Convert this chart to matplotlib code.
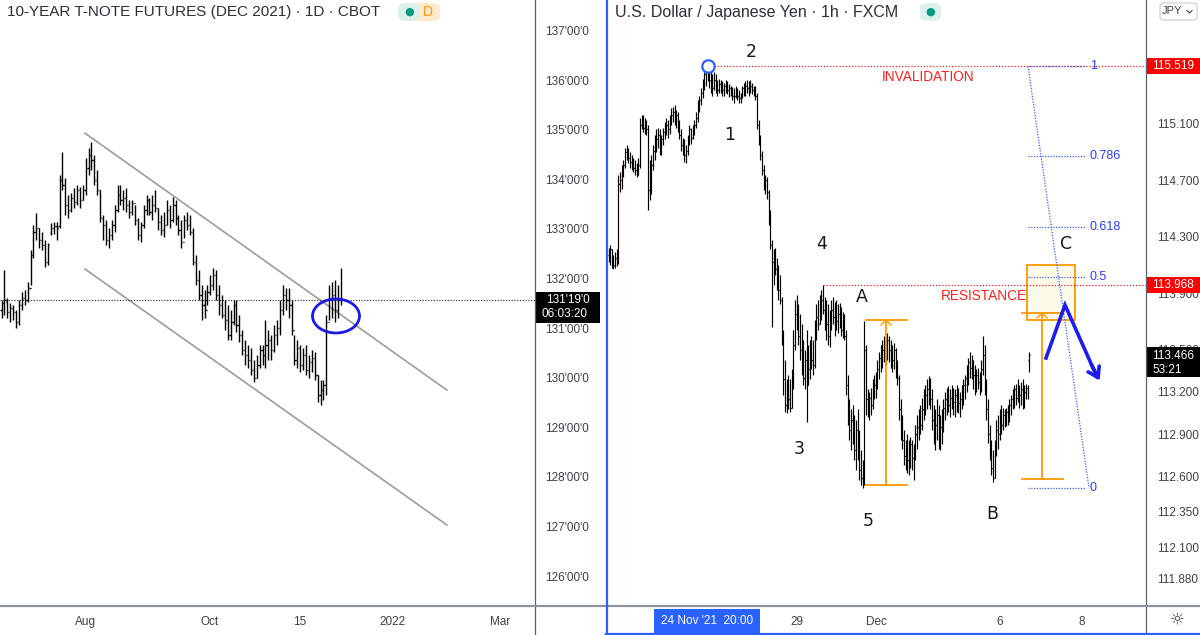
import matplotlib
matplotlib.use("Agg")
import matplotlib.pyplot as plt
import matplotlib.transforms as mtrans
from matplotlib.patches import Ellipse, Rectangle, FancyBboxPatch
from matplotlib.lines import Line2D
import numpy as np

plt.rcParams['font.family'] = ['Liberation Sans', 'DejaVu Sans']

W, H = 1200, 635

# ---------------- 10-year T-Note futures, daily bars ----------------
tn_open = [131.40, 131.54, 131.56, 131.36, 131.44, 131.36, 131.15, 131.50, 131.64, 131.60,
           131.84, 132.50, 132.97, 133.05, 132.81, 132.71, 132.36, 132.95, 133.05, 133.09,
           133.09, 134.02, 133.92, 133.51, 133.41, 133.65, 133.57, 133.81, 133.61, 133.81,
           134.26, 134.52, 134.42, 134.02, 133.81, 133.25, 133.11, 132.81, 132.91, 133.11,
           133.41, 133.71, 133.61, 133.65, 133.51, 133.37, 133.55, 133.21, 132.91, 133.11,
           133.41, 133.61, 133.37, 133.51, 133.45, 133.17, 133.01, 133.11, 133.41, 133.21,
           133.51, 133.25, 133.01, 132.77, 133.21, 133.11, 132.97, 132.36, 132.00, 131.70,
           131.50, 131.40, 131.76, 131.90, 132.10, 131.70, 131.50, 131.30, 131.19, 130.89,
           131.15, 131.50, 131.09, 130.89, 130.59, 130.49, 130.39, 130.19, 130.02, 130.29,
           130.59, 130.49, 130.69, 130.79, 130.59, 130.89, 131.03, 131.40, 131.70, 131.60,
           131.50, 130.99, 130.39, 130.63, 130.29, 130.49, 130.19, 130.35, 130.43, 130.08,
           129.68, 129.78, 129.88, 131.15, 131.60, 131.70, 131.40, 131.60]
tn_high = [131.60, 132.20, 131.64, 131.54, 131.50, 131.40, 131.60, 131.76, 131.80, 131.96,
           132.60, 133.11, 133.35, 133.05, 132.97, 132.81, 132.75, 133.15, 133.17, 133.17,
           134.12, 134.58, 134.06, 133.71, 133.75, 133.85, 133.92, 133.87, 133.92, 134.46,
           134.66, 134.78, 134.52, 134.22, 133.81, 133.31, 133.21, 133.05, 133.21, 133.51,
           133.92, 133.92, 133.81, 133.85, 133.61, 133.61, 133.51, 133.25, 133.17, 133.51,
           133.71, 133.65, 133.71, 133.81, 133.45, 133.31, 133.37, 133.61, 133.51, 133.67,
           133.61, 133.31, 133.21, 133.31, 133.37, 133.31, 133.05, 132.50, 132.20, 131.90,
           131.80, 131.90, 132.10, 132.24, 132.20, 131.90, 131.70, 131.60, 131.50, 131.40,
           131.60, 131.60, 131.30, 130.99, 130.79, 130.69, 130.63, 130.39, 130.49, 130.69,
           130.69, 131.19, 130.99, 130.89, 131.09, 131.19, 131.60, 131.90, 131.84, 131.84,
           131.60, 130.89, 130.79, 130.69, 130.63, 130.69, 130.49, 130.59, 130.55, 130.08,
           129.98, 129.98, 131.30, 131.90, 131.96, 132.00, 131.90, 132.24]
tn_low = [131.23, 131.30, 131.23, 131.15, 131.19, 131.03, 131.09, 131.40, 131.50, 131.56,
          131.90, 132.44, 132.81, 132.65, 132.60, 132.26, 132.30, 132.91, 132.93, 132.81,
          133.05, 133.81, 133.31, 133.25, 133.37, 133.45, 133.51, 133.45, 133.61, 133.71,
          134.12, 134.22, 133.92, 133.71, 133.17, 132.81, 132.71, 132.65, 132.81, 132.97,
          133.37, 133.51, 133.41, 133.37, 133.25, 133.31, 133.11, 132.81, 132.77, 133.05,
          133.31, 133.31, 133.21, 133.37, 133.01, 132.91, 132.87, 133.11, 133.05, 133.17,
          133.11, 132.91, 132.65, 132.85, 133.01, 132.91, 132.30, 131.90, 131.60, 131.19,
          131.23, 131.50, 131.70, 131.80, 131.60, 131.30, 131.23, 130.99, 130.79, 130.79,
          131.09, 130.95, 130.75, 130.49, 130.29, 130.23, 130.08, 129.94, 130.02, 130.23,
          130.29, 130.23, 130.39, 130.39, 130.55, 130.69, 130.89, 131.30, 131.40, 131.23,
          130.89, 130.29, 130.23, 130.15, 130.19, 130.08, 130.02, 130.15, 129.98, 129.54,
          129.48, 129.58, 129.68, 131.19, 131.23, 131.15, 131.23, 131.50]
tn_close = [131.54, 131.60, 131.36, 131.44, 131.36, 131.15, 131.50, 131.64, 131.60, 131.84,
            132.50, 132.97, 133.05, 132.81, 132.71, 132.36, 132.71, 133.05, 133.09, 133.05,
            134.02, 133.92, 133.51, 133.41, 133.65, 133.57, 133.81, 133.61, 133.81, 134.26,
            134.52, 134.42, 134.02, 133.81, 133.25, 133.11, 132.81, 132.91, 133.11, 133.41,
            133.71, 133.61, 133.65, 133.51, 133.37, 133.55, 133.21, 132.91, 133.11, 133.41,
            133.61, 133.37, 133.51, 133.45, 133.17, 133.01, 133.11, 133.41, 133.21, 133.51,
            133.25, 133.01, 132.77, 133.21, 133.11, 132.97, 132.36, 132.00, 131.70, 131.50,
            131.40, 131.76, 131.90, 132.10, 131.70, 131.50, 131.30, 131.19, 130.89, 131.15,
            131.50, 131.09, 130.89, 130.59, 130.49, 130.39, 130.19, 130.02, 130.29, 130.59,
            130.49, 130.69, 130.79, 130.59, 130.89, 131.03, 131.40, 131.70, 131.60, 131.50,
            130.99, 130.39, 130.63, 130.29, 130.49, 130.19, 130.35, 130.43, 130.08, 129.68,
            129.78, 129.88, 131.15, 131.60, 131.70, 131.40, 131.60, 131.59]
tn_last = 131.59375
tn_yticks = [137, 136, 135, 134, 133, 132, 131, 130, 129, 128, 127, 126]
tn_ytick_labels = ["137'00'0", "136'00'0", "135'00'0", "134'00'0", "133'00'0", "132'00'0",
                   "131'00'0", "130'00'0", "129'00'0", "128'00'0", "127'00'0", "126'00'0"]
tn_time_labels = ["Aug", "Oct", "15", "2022", "Mar"]
tn_time_index = [28.8, 71.9, 102.9, 134.7, 171.9]
tn_channel_upper = [(28.8, 134.96), (153.6, 129.78)]
tn_channel_lower = [(28.8, 132.22), (153.6, 127.06)]

# ---------------- USD/JPY, 1h bars ----------------
uj_high = [114.23, 114.25, 114.22, 114.18, 114.20, 114.22, 114.75, 114.77, 114.82, 114.85,
           114.94, 114.96, 114.94, 114.91, 114.89, 114.87, 114.85, 114.83, 114.87, 115.15,
           115.17, 115.17, 115.15, 115.14, 115.10, 114.85, 114.89, 114.96, 115.03, 115.07,
           115.08, 115.07, 115.03, 115.08, 115.12, 115.15, 115.14, 115.17, 115.22, 115.23,
           115.24, 115.21, 115.19, 115.14, 115.07, 115.01, 115.00, 114.96, 115.03, 115.10,
           115.08, 115.10, 115.14, 115.19, 115.28, 115.31, 115.36, 115.43, 115.48, 115.50,
           115.52, 115.50, 115.49, 115.46, 115.48, 115.46, 115.42, 115.43, 115.42, 115.41,
           115.40, 115.42, 115.41, 115.39, 115.38, 115.37, 115.36, 115.38, 115.36, 115.35,
           115.33, 115.38, 115.40, 115.41, 115.42, 115.41, 115.42, 115.40, 115.38, 115.38,
           115.33, 115.14, 115.03, 114.92, 114.82, 114.75, 114.73, 114.64, 114.50, 114.29,
           114.22, 114.23, 114.16, 114.11, 114.04, 113.88, 113.65, 113.44, 113.30, 113.33,
           113.30, 113.37, 113.65, 113.86, 113.90, 113.83, 113.76, 113.69, 113.58, 113.51,
           113.65, 113.54, 113.58, 113.61, 113.58, 113.72, 113.83, 113.86, 113.90, 113.93,
           113.97, 113.88, 113.86, 113.83, 113.79, 113.86, 113.88, 113.85, 113.86, 113.83,
           113.84, 113.81, 113.78, 113.76, 113.65, 113.33, 113.16, 113.09, 113.12, 113.05,
           113.01, 113.09, 112.94, 112.80, 112.73, 113.71, 113.54, 113.23, 113.21, 113.24,
           113.30, 113.33, 113.35, 113.44, 113.49, 113.54, 113.58, 113.61, 113.59, 113.63,
           113.61, 113.58, 113.54, 113.56, 113.52, 113.44, 113.33, 113.16, 113.05, 112.94,
           112.87, 112.91, 112.87, 112.89, 112.87, 112.84, 112.98, 113.05, 113.09, 113.12,
           113.17, 113.23, 113.26, 113.30, 113.32, 113.31, 113.23, 113.12, 113.09, 113.16,
           113.12, 113.05, 113.09, 113.16, 113.21, 113.24, 113.25, 113.23, 113.26, 113.24,
           113.23, 113.26, 113.24, 113.21, 113.26, 113.30, 113.33, 113.40, 113.45, 113.49,
           113.47, 113.44, 113.40, 113.37, 113.38, 113.35, 113.44, 113.61, 113.54, 113.30,
           113.16, 112.98, 112.87, 112.80, 112.87, 113.01, 113.05, 113.09, 113.12, 113.10,
           113.09, 113.10, 113.12, 113.16, 113.19, 113.23, 113.26, 113.27, 113.30, 113.26,
           113.28, 113.30, 113.26, 113.27, 113.26, 113.49]
uj_low = [114.13, 114.11, 114.09, 114.08, 114.09, 114.10, 114.12, 114.63, 114.65, 114.73,
          114.80, 114.85, 114.83, 114.80, 114.78, 114.77, 114.75, 114.73, 114.75, 114.80,
          115.07, 115.05, 115.04, 115.03, 114.50, 114.57, 114.61, 114.78, 114.85, 114.91,
          114.94, 114.89, 114.89, 114.96, 115.00, 115.03, 115.01, 115.04, 115.10, 115.12,
          115.10, 115.08, 115.05, 115.00, 114.92, 114.89, 114.84, 114.83, 114.89, 114.96,
          114.97, 115.00, 115.03, 115.08, 115.12, 115.19, 115.24, 115.29, 115.35, 115.38,
          115.41, 115.36, 115.33, 115.31, 115.35, 115.33, 115.31, 115.33, 115.33, 115.31,
          115.31, 115.33, 115.32, 115.30, 115.31, 115.28, 115.26, 115.29, 115.28, 115.26,
          115.26, 115.29, 115.31, 115.31, 115.33, 115.31, 115.33, 115.32, 115.31, 115.28,
          115.07, 114.96, 114.85, 114.75, 114.64, 114.61, 114.58, 114.39, 114.22, 113.67,
          113.97, 114.04, 113.93, 113.86, 113.83, 113.54, 113.19, 113.07, 113.06, 113.09,
          113.07, 113.10, 113.23, 113.51, 113.65, 113.54, 113.44, 113.33, 113.26, 113.23,
          113.00, 113.26, 113.30, 113.37, 113.33, 113.38, 113.58, 113.65, 113.69, 113.72,
          113.76, 113.65, 113.58, 113.54, 113.53, 113.65, 113.69, 113.61, 113.65, 113.63,
          113.66, 113.61, 113.59, 113.58, 113.19, 112.98, 112.87, 112.80, 112.84, 112.73,
          112.66, 112.73, 112.59, 112.55, 112.53, 112.55, 113.05, 113.03, 113.01, 113.05,
          113.09, 113.16, 113.17, 113.23, 113.30, 113.35, 113.38, 113.42, 113.40, 113.44,
          113.42, 113.38, 113.35, 113.37, 113.31, 113.26, 113.01, 112.87, 112.81, 112.69,
          112.66, 112.64, 112.62, 112.67, 112.66, 112.59, 112.73, 112.81, 112.87, 112.91,
          112.94, 113.01, 113.05, 113.09, 113.12, 113.09, 112.94, 112.84, 112.80, 112.87,
          112.81, 112.80, 112.84, 112.93, 113.01, 113.05, 113.07, 113.03, 113.09, 113.05,
          113.03, 113.07, 113.06, 113.03, 113.09, 113.12, 113.16, 113.21, 113.26, 113.31,
          113.30, 113.23, 113.19, 113.21, 113.23, 113.19, 113.21, 113.33, 113.19, 113.01,
          112.85, 112.73, 112.62, 112.57, 112.60, 112.76, 112.81, 112.87, 112.91, 112.94,
          112.96, 112.97, 112.98, 113.00, 113.05, 113.09, 113.10, 113.12, 113.14, 113.10,
          113.12, 113.09, 113.10, 113.16, 113.16, 113.35]
uj_close = [114.16, 114.22, 114.13, 114.11, 114.16, 114.13, 114.68, 114.71, 114.78, 114.82,
            114.91, 114.92, 114.87, 114.84, 114.82, 114.80, 114.78, 114.75, 114.82, 115.10,
            115.12, 115.08, 115.10, 115.07, 114.64, 114.78, 114.82, 114.92, 114.96, 115.00,
            115.03, 114.94, 115.00, 115.05, 115.08, 115.10, 115.07, 115.14, 115.17, 115.19,
            115.15, 115.17, 115.10, 115.03, 114.96, 114.92, 114.89, 114.92, 115.00, 115.07,
            115.01, 115.07, 115.10, 115.15, 115.24, 115.28, 115.33, 115.41, 115.46, 115.48,
            115.43, 115.42, 115.38, 115.36, 115.42, 115.38, 115.35, 115.39, 115.36, 115.35,
            115.38, 115.39, 115.35, 115.36, 115.33, 115.31, 115.31, 115.35, 115.31, 115.29,
            115.31, 115.36, 115.35, 115.38, 115.36, 115.39, 115.38, 115.35, 115.36, 115.31,
            115.10, 115.00, 114.89, 114.78, 114.68, 114.71, 114.63, 114.43, 114.25, 114.13,
            114.16, 114.08, 113.99, 113.93, 113.86, 113.58, 113.30, 113.12, 113.19, 113.16,
            113.10, 113.26, 113.54, 113.76, 113.72, 113.61, 113.51, 113.40, 113.31, 113.44,
            113.26, 113.37, 113.51, 113.44, 113.40, 113.65, 113.74, 113.69, 113.83, 113.86,
            113.79, 113.74, 113.69, 113.61, 113.72, 113.79, 113.74, 113.78, 113.71, 113.76,
            113.72, 113.65, 113.69, 113.61, 113.26, 113.05, 112.94, 113.01, 112.91, 112.80,
            112.94, 112.84, 112.66, 112.60, 112.58, 113.51, 113.16, 113.12, 113.17, 113.12,
            113.23, 113.26, 113.31, 113.37, 113.45, 113.40, 113.51, 113.54, 113.47, 113.58,
            113.51, 113.47, 113.44, 113.51, 113.37, 113.31, 113.09, 112.94, 112.87, 112.76,
            112.81, 112.73, 112.79, 112.84, 112.74, 112.80, 112.91, 112.96, 113.01, 112.98,
            113.09, 113.16, 113.19, 113.23, 113.26, 113.16, 113.01, 112.91, 112.98, 113.05,
            112.89, 112.96, 113.01, 113.10, 113.16, 113.19, 113.12, 113.17, 113.21, 113.14,
            113.19, 113.17, 113.13, 113.16, 113.21, 113.26, 113.31, 113.37, 113.42, 113.38,
            113.44, 113.33, 113.30, 113.33, 113.28, 113.24, 113.37, 113.47, 113.26, 113.09,
            112.91, 112.76, 112.67, 112.60, 112.80, 112.94, 112.91, 113.01, 112.98, 113.05,
            113.01, 113.07, 113.03, 113.12, 113.16, 113.19, 113.23, 113.17, 113.24, 113.19,
            113.23, 113.16, 113.21, 113.24, 113.19, 113.47]
uj_open = [114.18, 114.16, 114.22, 114.13, 114.11, 114.16, 114.13, 114.68, 114.71, 114.78,
           114.82, 114.91, 114.92, 114.87, 114.84, 114.82, 114.80, 114.78, 114.75, 114.82,
           115.10, 115.12, 115.08, 115.10, 115.07, 114.64, 114.78, 114.82, 114.92, 114.96,
           115.00, 115.03, 114.94, 115.00, 115.05, 115.08, 115.10, 115.07, 115.14, 115.17,
           115.19, 115.15, 115.17, 115.10, 115.03, 114.96, 114.92, 114.89, 114.92, 115.00,
           115.07, 115.01, 115.07, 115.10, 115.15, 115.24, 115.28, 115.33, 115.41, 115.46,
           115.48, 115.43, 115.42, 115.38, 115.36, 115.42, 115.38, 115.35, 115.39, 115.36,
           115.35, 115.38, 115.39, 115.35, 115.36, 115.33, 115.31, 115.31, 115.35, 115.31,
           115.29, 115.31, 115.36, 115.35, 115.38, 115.36, 115.39, 115.38, 115.35, 115.36,
           115.31, 115.10, 115.00, 114.89, 114.78, 114.68, 114.71, 114.63, 114.43, 114.25,
           114.13, 114.16, 114.08, 113.99, 113.93, 113.86, 113.58, 113.30, 113.12, 113.19,
           113.16, 113.10, 113.26, 113.54, 113.76, 113.72, 113.61, 113.51, 113.40, 113.31,
           113.44, 113.26, 113.37, 113.51, 113.44, 113.40, 113.65, 113.74, 113.69, 113.83,
           113.86, 113.79, 113.74, 113.69, 113.61, 113.72, 113.79, 113.74, 113.78, 113.71,
           113.76, 113.72, 113.65, 113.69, 113.61, 113.26, 113.05, 112.94, 113.01, 112.91,
           112.80, 112.94, 112.84, 112.66, 112.60, 112.58, 113.51, 113.16, 113.12, 113.17,
           113.12, 113.23, 113.26, 113.31, 113.37, 113.45, 113.40, 113.51, 113.54, 113.47,
           113.58, 113.51, 113.47, 113.44, 113.51, 113.37, 113.31, 113.09, 112.94, 112.87,
           112.76, 112.81, 112.73, 112.79, 112.84, 112.74, 112.80, 112.91, 112.96, 113.01,
           112.98, 113.09, 113.16, 113.19, 113.23, 113.26, 113.16, 113.01, 112.91, 112.98,
           113.05, 112.89, 112.96, 113.01, 113.10, 113.16, 113.19, 113.12, 113.17, 113.21,
           113.14, 113.19, 113.17, 113.13, 113.16, 113.21, 113.26, 113.31, 113.37, 113.42,
           113.38, 113.44, 113.33, 113.30, 113.33, 113.28, 113.24, 113.37, 113.47, 113.26,
           113.09, 112.91, 112.76, 112.67, 112.60, 112.80, 112.94, 112.91, 113.01, 112.98,
           113.05, 113.01, 113.07, 113.03, 113.12, 113.16, 113.19, 113.23, 113.17, 113.24,
           113.19, 113.23, 113.16, 113.21, 113.24, 113.44]
uj_yticks = [115.1, 114.7, 114.3, 113.9, 113.5, 113.2, 112.9, 112.6, 112.35, 112.1, 111.88]
uj_ytick_labels = ["115.100", "114.700", "114.300", "113.900", "113.500", "113.200",
                   "112.900", "112.600", "112.350", "112.100", "111.880"]
uj_time_labels = ["29", "Dec", "6", "8"]
uj_time_index = [114.2, 162.1, 237.3, 287.0]
uj_cursor_label = "24 Nov '21  20:00"
uj_cursor_index = 59.7
uj_invalidation = 115.519
uj_resistance = 113.968
uj_last = 113.466
fib_ratios = [1, 0.786, 0.618, 0.5, 0]
fib_labels = ["1", "0.786", "0.618", "0.5", "0"]
fib_high = 115.519
fib_low = 112.53

# ---------------- figure ----------------
fig = plt.figure(figsize=(W / 100, H / 100), dpi=100)
fig.patch.set_facecolor('white')

PANE_BOTTOM = 606  # px (top origin)


def fx(px):
    return px / W


def fy(py):
    return 1 - py / H


axL = fig.add_axes([0, fy(PANE_BOTTOM), fx(535), (PANE_BOTTOM) / H])
axR = fig.add_axes([fx(608), fy(PANE_BOTTOM), fx(1146 - 608), (PANE_BOTTOM) / H])
for ax in (axL, axR):
    ax.set_axis_off()


# pixel->data helpers used only to place the layout / annotations
def lx(px):
    return (px - 1.5) / 2.9


def ly(py):
    return 137.0 - (py - 32) / 49.6


def rx(px):
    return (px - 608.5) / 1.65


def ry(py):
    return 115.519 - (py - 66) / 141.2


axL.set_xlim(lx(0), lx(535))
axL.set_ylim(ly(PANE_BOTTOM), ly(0))
axR.set_xlim(rx(608), rx(1146))
axR.set_ylim(ry(PANE_BOTTOM), ry(0))


def draw_ohlc(ax, o, h, l, c, tick, lw):
    x = np.arange(len(o))
    ax.vlines(x, l, h, color='black', lw=lw, zorder=3)
    ax.hlines(o, x - tick, x, color='black', lw=lw, zorder=3)
    ax.hlines(c, x, x + tick, color='black', lw=lw, zorder=3)


draw_ohlc(axL, tn_open, tn_high, tn_low, tn_close, 0.38, 1.0)
draw_ohlc(axR, uj_open, uj_high, uj_low, uj_close, 0.5, 0.85)

# ---------- left pane annotations ----------
gray_line = '#9a9ca3'
for seg in (tn_channel_upper, tn_channel_lower):
    axL.plot([seg[0][0], seg[1][0]], [seg[0][1], seg[1][1]], color=gray_line, lw=1.2, zorder=2)
axL.axhline(tn_last, color='#222222', lw=0.8, ls=(0, (1, 1.5)), zorder=2)
axL.add_patch(Ellipse((lx(336), ly(316)), 47 / 2.9, 34 / 49.6, fill=False,
                      edgecolor='#1a1ae6', lw=2.0, zorder=5))

# ---------- right pane annotations ----------
red = '#ff1f1f'
axR.plot([rx(714), rx(1146)], [uj_invalidation] * 2, color=red, lw=0.9, ls=(0, (1, 1.5)), zorder=2)
axR.plot([rx(823), rx(1146)], [uj_resistance] * 2, color=red, lw=0.9, ls=(0, (1, 1.5)), zorder=2)
axR.scatter([rx(708)], [uj_invalidation], s=80, facecolors='white', edgecolors='#2962ff',
            linewidths=1.6, zorder=6)
axR.text(rx(928), ry(77), 'INVALIDATION', color=red, fontsize=9.8, ha='center', va='center', zorder=6)
axR.text(rx(984), ry(296), 'RESISTANCE', color=red, fontsize=9.8, ha='center', va='center', zorder=6)

for lbl, px, py in [('2', 751, 52), ('1', 730, 135), ('4', 822, 244), ('3', 799, 449),
                    ('5', 868, 521), ('A', 862, 297), ('B', 992, 514), ('C', 1066, 244)]:
    axR.text(rx(px), ry(py), lbl, fontsize=12.5, color='#131722', ha='center', va='center',
             family=['DejaVu Sans'], zorder=6)

# fib retracement
fib_col = '#3b5bff'
for r, lab in zip(fib_ratios, fib_labels):
    lvl = fib_low + r * (fib_high - fib_low)
    axR.plot([rx(1028), rx(1085)], [lvl, lvl], color=fib_col, lw=0.9, ls=(0, (1, 1.2)), zorder=4)
    axR.text(rx(1090), lvl, lab, color='#2a3cff', fontsize=9, ha='left', va='center', zorder=6)
axR.plot([rx(1028), rx(1089)], [fib_high, fib_low], color=fib_col, lw=0.9, ls=(0, (1, 1.2)), zorder=4)

# orange measurement brackets
orange = '#ff9800'
for xl, xr, xm, top, bot in [(866, 907, 886, ry(320), ry(485)),
                             (1022, 1063, 1042, ry(313), ry(479))]:
    axR.plot([rx(xl), rx(xr)], [top, top], color=orange, lw=1.3, zorder=5)
    axR.plot([rx(xl), rx(xr)], [bot, bot], color=orange, lw=1.3, zorder=5)
    axR.plot([rx(xm), rx(xm)], [top, bot], color=orange, lw=1.3, zorder=5)
    axR.plot([rx(xm - 5), rx(xm), rx(xm + 5)], [top - 5 / 141.2, top, top - 5 / 141.2],
             color=orange, lw=1.0, zorder=5)
axR.add_patch(Rectangle((rx(1027), ry(320)), rx(1075) - rx(1027), ry(265) - ry(320),
                        facecolor='#fffbea', edgecolor=orange, lw=1.3, zorder=1))

# blue projected path
blue = '#1c1cf0'
axR.plot([rx(1046), rx(1065), rx(1097)], [ry(358), ry(305), ry(377)], color=blue, lw=2.6,
         solid_joinstyle='miter', zorder=7)
axR.annotate('', xy=(rx(1101), ry(383)), xytext=(rx(1090), ry(362)),
             arrowprops=dict(arrowstyle='->,head_length=0.7,head_width=0.45', color=blue, lw=2.6),
             zorder=7)

# ---------- price scales ----------
tL = mtrans.blended_transform_factory(fig.transFigure, axL.transData)
tR = mtrans.blended_transform_factory(fig.transFigure, axR.transData)
axis_txt = '#3c3f48'
for v, lab in zip(tn_yticks, tn_ytick_labels):
    axL.text(fx(545), v, lab, transform=tL, fontsize=8.5, color=axis_txt, ha='left', va='center',
             clip_on=False, zorder=8)
for v, lab in zip(uj_yticks, uj_ytick_labels):
    axR.text(fx(1157), v, lab, transform=tR, fontsize=8.5, color=axis_txt, ha='left', va='center',
             clip_on=False, zorder=8)

# last price boxes
axL.add_patch(Rectangle((fx(536), tn_last - 23 / 49.6), fx(600) - fx(536), 31 / 49.6,
                        transform=tL, facecolor='black', edgecolor='none', clip_on=False, zorder=9))
axL.text(fx(546), tn_last, "131'19'0", transform=tL, color='white', fontsize=8.5, ha='left',
         va='center', clip_on=False, zorder=10)
axL.text(fx(542), tn_last - 14 / 49.6, "06:03:20", transform=tL, color='white', fontsize=8.5,
         ha='left', va='center', clip_on=False, zorder=10)

for lvl, lab in [(uj_invalidation, '115.519'), (uj_resistance, '113.968')]:
    axR.add_patch(Rectangle((fx(1147), lvl - 8 / 141.2), fx(1200) - fx(1147), 16 / 141.2,
                            transform=tR, facecolor='#ff0000', edgecolor='none', clip_on=False,
                            zorder=9))
    axR.text(fx(1152), lvl, lab, transform=tR, color='white', fontsize=8.5, ha='left',
             va='center', clip_on=False, zorder=10)

axR.add_patch(Rectangle((fx(1147), uj_last - 21 / 141.2), fx(1200) - fx(1147), 30 / 141.2,
                        transform=tR, facecolor='black', edgecolor='none', clip_on=False, zorder=9))
axR.text(fx(1152), uj_last, '113.466', transform=tR, color='white', fontsize=8.5, ha='left',
         va='center', clip_on=False, zorder=10)
axR.text(fx(1152), uj_last - 14 / 141.2, '53:21', transform=tR, color='white', fontsize=8.5,
         ha='left', va='center', clip_on=False, zorder=10)

# ---------- time scales ----------
tLx = mtrans.blended_transform_factory(axL.transData, fig.transFigure)
tRx = mtrans.blended_transform_factory(axR.transData, fig.transFigure)
for idx, lab in zip(tn_time_index, tn_time_labels):
    axL.text(idx, fy(622), lab, transform=tLx, fontsize=8.5, color=axis_txt, ha='center',
             va='center', clip_on=False)
for idx, lab in zip(uj_time_index, uj_time_labels):
    axR.text(idx, fy(622), lab, transform=tRx, fontsize=8.5, color=axis_txt, ha='center',
             va='center', clip_on=False)
axR.text(uj_cursor_index, fy(621), uj_cursor_label, transform=tRx, fontsize=8.5, color='white',
         ha='center', va='center', clip_on=False, zorder=10,
         bbox=dict(boxstyle='square,pad=0.55', facecolor='#2962ff', edgecolor='none'))

# ---------- frame lines ----------
frame = '#5d606b'
fig.add_artist(Line2D([fx(535), fx(535)], [0, 1], color=frame, lw=0.9))
fig.add_artist(Line2D([fx(1146), fx(1146)], [0, 1], color=frame, lw=0.9))
fig.add_artist(Line2D([0, fx(605)], [fy(PANE_BOTTOM), fy(PANE_BOTTOM)], color='#8f929a', lw=1.6))
fig.add_artist(Line2D([fx(607), 1], [fy(PANE_BOTTOM), fy(PANE_BOTTOM)], color='#8f929a', lw=1.6))
fig.add_artist(Line2D([fx(606.5), fx(606.5)], [0, 1], color='#2962ff', lw=1.6))
fig.add_artist(Line2D([fx(606), 1], [fy(634), fy(634)], color='#2962ff', lw=1.6))

# ---------- titles ----------
title_col = '#2a2e39'
fig.text(fx(7), fy(12), '10-YEAR T-NOTE FUTURES (DEC 2021) · 1D · CBOT', fontsize=11,
         color=title_col, ha='left', va='center')
fig.text(fx(615), fy(12), 'U.S. Dollar / Japanese Yen · 1h · FXCM', fontsize=11.5,
         color=title_col, ha='left', va='center')
# status badges
fig.add_artist(FancyBboxPatch((fx(398), fy(21)), fx(440) - fx(398), 18 / H,
                              boxstyle='round,pad=0,rounding_size=0.008',
                              facecolor='#ffe9cc', edgecolor='none', transform=fig.transFigure))
fig.add_artist(FancyBboxPatch((fx(398), fy(21)), fx(420) - fx(398), 18 / H,
                              boxstyle='round,pad=0,rounding_size=0.008',
                              facecolor='#dcf1ec', edgecolor='none', transform=fig.transFigure))
fig.text(fx(409), fy(12), '●', fontsize=8, color='#089981', ha='center', va='center',
         family=['DejaVu Sans'])
fig.text(fx(428), fy(12), 'D', fontsize=10, color='#ff9800', ha='center', va='center')
fig.add_artist(FancyBboxPatch((fx(920), fy(21)), fx(941) - fx(920), 18 / H,
                              boxstyle='round,pad=0,rounding_size=0.008',
                              facecolor='#dcf1ec', edgecolor='none', transform=fig.transFigure))
fig.text(fx(930.5), fy(12), '●', fontsize=8, color='#089981', ha='center', va='center',
         family=['DejaVu Sans'])

# currency button and settings icon
fig.add_artist(FancyBboxPatch((fx(1160), fy(20)), fx(1197) - fx(1160), 17 / H,
                              boxstyle='round,pad=0,rounding_size=0.004',
                              facecolor='white', edgecolor='#c8cad0', lw=0.8,
                              transform=fig.transFigure))
fig.text(fx(1172), fy(11.5), 'JPY', fontsize=8, color='#3c3f48', ha='center', va='center')
fig.add_artist(Line2D([fx(1187), fx(1189.5), fx(1192)], [fy(10.5), fy(13), fy(10.5)],
                      color='#3c3f48', lw=0.8))
fig.text(fx(1177), fy(620), '☼', fontsize=12, color='#3c3f48', ha='center', va='center',
         family=['DejaVu Sans'])

fig.savefig('out.png', dpi=100, facecolor='white')
